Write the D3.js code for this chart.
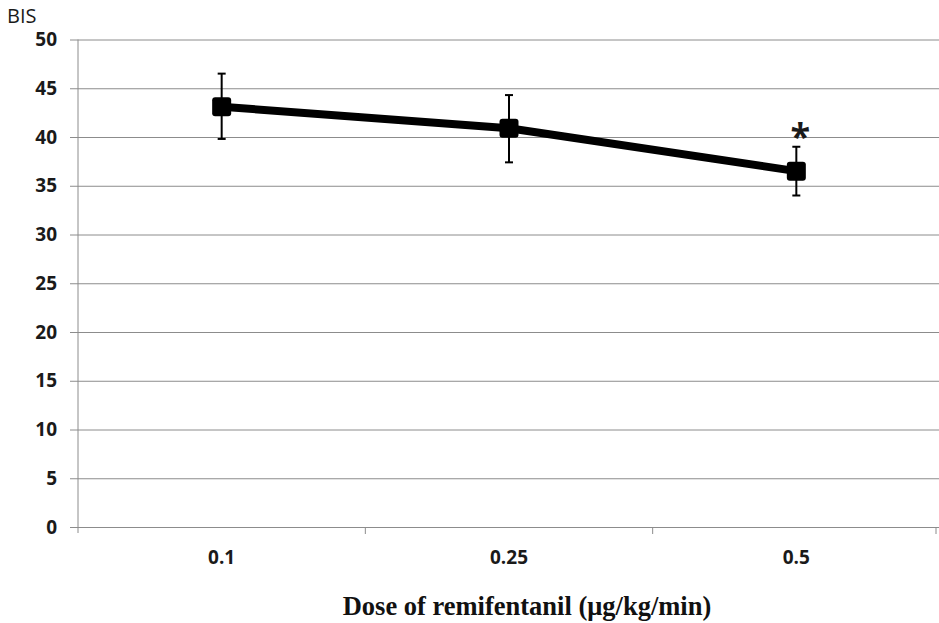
<!DOCTYPE html>
<html>
<head>
<meta charset="utf-8">
<script src="https://cdn.jsdelivr.net/npm/d3@7/dist/d3.min.js"></script>
<style>
  html, body { margin: 0; padding: 0; background: #fff; }
  svg { display: block; }
</style>
</head>
<body>
<svg id="chart" width="939" height="623"></svg>
<script>
// Remifentanil dose groups and mean BIS with error ranges
const doses = ["0.1", "0.25", "0.5"];
const bisMean = [43.1, 40.9, 36.5];
const bisUpper = [46.5, 44.3, 39.0];
const bisLower = [39.8, 37.4, 34.0];
const significant = [false, false, true];
const yTicks = [0, 5, 10, 15, 20, 25, 30, 35, 40, 45, 50];

const svg = d3.select("#chart");
const plotLeft = 78, plotRight = 940, plotTop = 39.5, plotBottom = 527;
const sansFont = "'Open Sans', 'Noto Sans', sans-serif";

const x = d3.scaleBand().domain(doses).range([plotLeft, plotRight]);
const y = d3.scaleLinear().domain([0, 50]).range([plotBottom, plotTop]);

// horizontal gridlines with short outside ticks
const yAxis = d3.axisLeft(y).tickValues(yTicks).tickSize(-(plotRight - plotLeft)).tickSizeOuter(0).tickPadding(21);
const gy = svg.append("g").attr("transform", `translate(${plotLeft},0)`).call(yAxis);
gy.select(".domain").remove();
gy.selectAll(".tick line").attr("stroke", "#8c8c8c").attr("stroke-width", 1).attr("x1", -8);
gy.selectAll(".tick text")
  .attr("font-family", sansFont)
  .attr("font-weight", "bold").attr("font-size", 19).attr("fill", "#1a1a1a");

// vertical axis line
svg.append("line").attr("x1", plotLeft).attr("x2", plotLeft).attr("y1", plotTop).attr("y2", plotBottom + 6)
  .attr("stroke", "#8c8c8c").attr("stroke-width", 1);

// category axis with ticks between groups
const xAxis = d3.axisBottom(x).tickSize(0).tickPadding(24);
const gx = svg.append("g").attr("transform", `translate(0,${plotBottom})`).call(xAxis);
gx.select(".domain").remove();
gx.selectAll(".tick text")
  .attr("font-family", sansFont)
  .attr("font-weight", "bold").attr("font-size", 19).attr("fill", "#1a1a1a");
const edges = doses.slice(1).map(d => x(d)).concat([plotRight - 4]);
svg.append("g").selectAll("line").data(edges).join("line")
  .attr("x1", d => d).attr("x2", d => d).attr("y1", plotBottom).attr("y2", plotBottom + 7)
  .attr("stroke", "#8c8c8c").attr("stroke-width", 1);

const cx = d => x(d) + x.bandwidth() / 2;

// error bars
const eg = svg.append("g");
doses.forEach((d, i) => {
  const xc = cx(d);
  eg.append("line").attr("x1", xc).attr("x2", xc).attr("y1", y(bisUpper[i])).attr("y2", y(bisLower[i]))
    .attr("stroke", "#000").attr("stroke-width", 2);
  [bisUpper[i], bisLower[i]].forEach(v => {
    eg.append("line").attr("x1", xc - 4).attr("x2", xc + 4).attr("y1", y(v)).attr("y2", y(v))
      .attr("stroke", "#000").attr("stroke-width", 2);
  });
});

// mean line
const line = d3.line().x((d, i) => cx(doses[i])).y(d => y(d));
svg.append("path").datum(bisMean).attr("d", line)
  .attr("fill", "none").attr("stroke", "#000").attr("stroke-width", 8).attr("stroke-linejoin", "round");

// square markers
const s = 19;
svg.append("g").selectAll("rect").data(bisMean).join("rect")
  .attr("x", (d, i) => cx(doses[i]) - s / 2).attr("y", d => y(d) - s / 2)
  .attr("width", s).attr("height", s).attr("rx", 3).attr("fill", "#000");

// significance marker above the upper error cap
svg.append("g").selectAll("text").data(bisUpper.map((v, i) => ({ v, i })).filter(o => significant[o.i]))
  .join("text")
  .attr("x", o => cx(doses[o.i]) + 4).attr("y", o => y(o.v) + 2)
  .attr("text-anchor", "middle")
  .attr("font-family", sansFont).attr("font-weight", "bold")
  .attr("font-size", 36).attr("fill", "#1a1a1a").text("*");

// axis titles
svg.append("text").attr("x", 7).attr("y", 23)
  .attr("font-family", sansFont)
  .attr("font-size", 20).attr("fill", "#1a1a1a").text("BIS");
svg.append("text").attr("x", 527).attr("y", 615).attr("text-anchor", "middle")
  .attr("font-family", "'Liberation Serif', 'Times New Roman', serif")
  .attr("font-weight", "bold").attr("font-size", 26.5).attr("fill", "#111")
  .text("Dose of remifentanil (μg/kg/min)");
</script>
</body>
</html>
